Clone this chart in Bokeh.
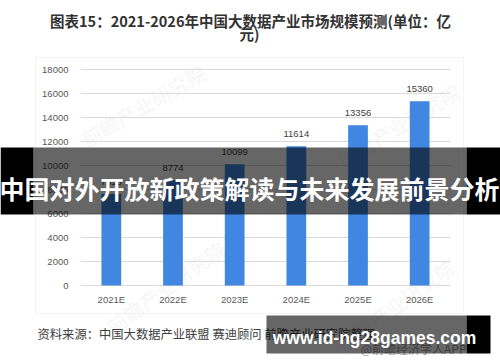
import math
from bokeh.plotting import figure
from bokeh.models import Label, BoxAnnotation, ColumnDataSource, Range1d, FixedTicker
from bokeh.embed import file_html
from bokeh.resources import INLINE
from bokeh.core.properties import value

# ---- data ----
years = ["2021E", "2022E", "2023E", "2024E", "2025E", "2026E"]
sizes = [7615, 8774, 10099, 11614, 13356, 15360]
y_ticks = [0, 2000, 4000, 6000, 8000, 10000, 12000, 14000, 16000, 18000]

TITLE_1 = "图表15：2021-2026年中国大数据产业市场规模预测(单位：亿"
TITLE_2 = "元)"
SOURCE = "资料来源：中国大数据产业联盟 赛迪顾问 前瞻产业研究院整理"
BANNER = "中国对外开放新政策解读与未来发展前景分析"
SITE = "www.id-ng28games.com"
APP = "@前瞻经济学人APP"
WATERMARK = "前瞻产业研究院"

# ---- layout (pixel geometry of the picture) ----
W, H = 500, 362
PLOT_L, PLOT_R, PLOT_T, PLOT_B = 80, 450, 69, 285   # plotting area
Y_MAX = y_ticks[-1]
n = len(years)
px_per_cat = (PLOT_R - PLOT_L) / n
px_per_val = (PLOT_B - PLOT_T) / Y_MAX
x_start = -0.5 - PLOT_L / px_per_cat
x_end = x_start + W / px_per_cat
y_start = -(H - PLOT_B) / px_per_val
y_end = Y_MAX + PLOT_T / px_per_val

def sx(rx):
    return rx

def sy(ry):
    return H - ry

CJK = "Noto Sans CJK SC"
LAT = "Liberation Sans"

xs = list(range(n))
source = ColumnDataSource(dict(x=xs, size=sizes, label=[str(v) for v in sizes]))

p = figure(
    x_range=Range1d(x_start, x_end), y_range=Range1d(y_start, y_end),
    width=W, height=H, output_backend="svg", toolbar_location=None, title=None,
    min_border=0, min_border_left=0, min_border_right=0, min_border_top=0, min_border_bottom=0,
    background_fill_color="white", border_fill_color="white",
)
p.outline_line_color = None
p.grid.visible = False

def screen_box(l, r, t, b, **kw):
    return BoxAnnotation(left=sx(l), right=sx(r), top=sy(t), bottom=sy(b),
                         left_units="screen", right_units="screen",
                         top_units="screen", bottom_units="screen", **kw)

def screen_label(x, y, text, **kw):
    return Label(x=sx(x), y=sy(y), x_units="screen", y_units="screen", text=text, **kw)

# faint diagonal watermarks (beneath the bars)
for cx, cy, ang in [(143, 105, 30), (398, 125, 31), (165, 287, 36), (395, 305, 36)]:
    p.add_layout(screen_label(cx, cy, WATERMARK, text_align="center", text_baseline="middle",
                              angle=math.radians(ang), text_font=CJK, text_font_style="bold",
                              text_font_size="20px", text_color="black", text_alpha=0.045,
                              level="underlay"))

# grid lines along the y ticks, across the category span
p.segment(x0=[-0.5] * len(y_ticks), x1=[n - 0.5] * len(y_ticks), y0=y_ticks, y1=y_ticks,
          line_color="#d9d9d9", line_width=1)

p.vbar(x="x", top="size", width=0.32, source=source, fill_color="#4186e0", line_color=None)
p.text(x="x", y="size", text="label", source=source, text_align="center",
       text_baseline="middle", y_offset=-12, text_font=value(LAT),
       text_font_size="9.5px", text_color="#404040")

# axes fixed at the plot area's edges
xa = p.xaxis[0]
ya = p.yaxis[0]
xa.fixed_location = 0
ya.fixed_location = -0.5
xa.ticker = FixedTicker(ticks=xs)
xa.major_label_overrides = {i: y for i, y in zip(xs, years)}
ya.ticker = FixedTicker(ticks=y_ticks)
for ax in (xa, ya):
    ax.axis_line_color = None
    ax.major_tick_line_color = None
    ax.minor_tick_line_color = None
    ax.major_tick_out = 0
    ax.major_tick_in = 0
    ax.major_label_text_font = LAT
    ax.major_label_text_font_size = "9.5px"
    ax.major_label_text_color = "#595959"
ya.major_label_standoff = 12
xa.major_label_standoff = 8

# chart border box
p.add_layout(screen_box(35, 463, 57, 313, fill_alpha=0, line_color="#d9d9d9", line_width=1))

# titles
p.add_layout(screen_label(250, 20, TITLE_1, text_align="center", text_baseline="middle",
                          text_font=CJK, text_font_style="bold", text_font_size="14.5px",
                          text_color="#333333"))
p.add_layout(screen_label(249, 33, TITLE_2, text_align="center", text_baseline="middle",
                          text_font=CJK, text_font_style="bold", text_font_size="14.5px",
                          text_color="#333333"))

# source line
p.add_layout(screen_label(37, 333, SOURCE, text_align="left", text_baseline="middle",
                          text_font=CJK, text_font_size="12.3px", text_color="#404040"))
p.add_layout(screen_label(466, 348, APP, text_align="right", text_baseline="middle",
                          text_font=CJK, text_font_size="12px", text_color="#9a9a9a"))

# banner overlay
p.add_layout(screen_box(0, 33, 147, 214, fill_color="black", fill_alpha=1.0, line_color=None))
p.add_layout(screen_box(33, 466, 147, 214, fill_color="black", fill_alpha=0.6, line_color=None))
p.add_layout(screen_box(466, 500, 147, 214, fill_color="black", fill_alpha=1.0, line_color=None))
p.add_layout(screen_label(249, 187, BANNER, text_align="center", text_baseline="middle",
                          text_font=CJK, text_font_style="bold", text_font_size="25px",
                          text_color="white"))

# site overlay
p.add_layout(screen_box(266, 466, 315, 353, fill_color="black", fill_alpha=0.6, line_color=None))
p.add_layout(screen_box(466, 490, 315, 353, fill_color="black", fill_alpha=1.0, line_color=None))
p.add_layout(screen_label(374, 337, SITE, text_align="center", text_baseline="middle",
                          text_font=LAT, text_font_style="bold", text_font_size="17.5px",
                          text_color="white"))

open("out.html", "w").write(file_html(p, INLINE))
